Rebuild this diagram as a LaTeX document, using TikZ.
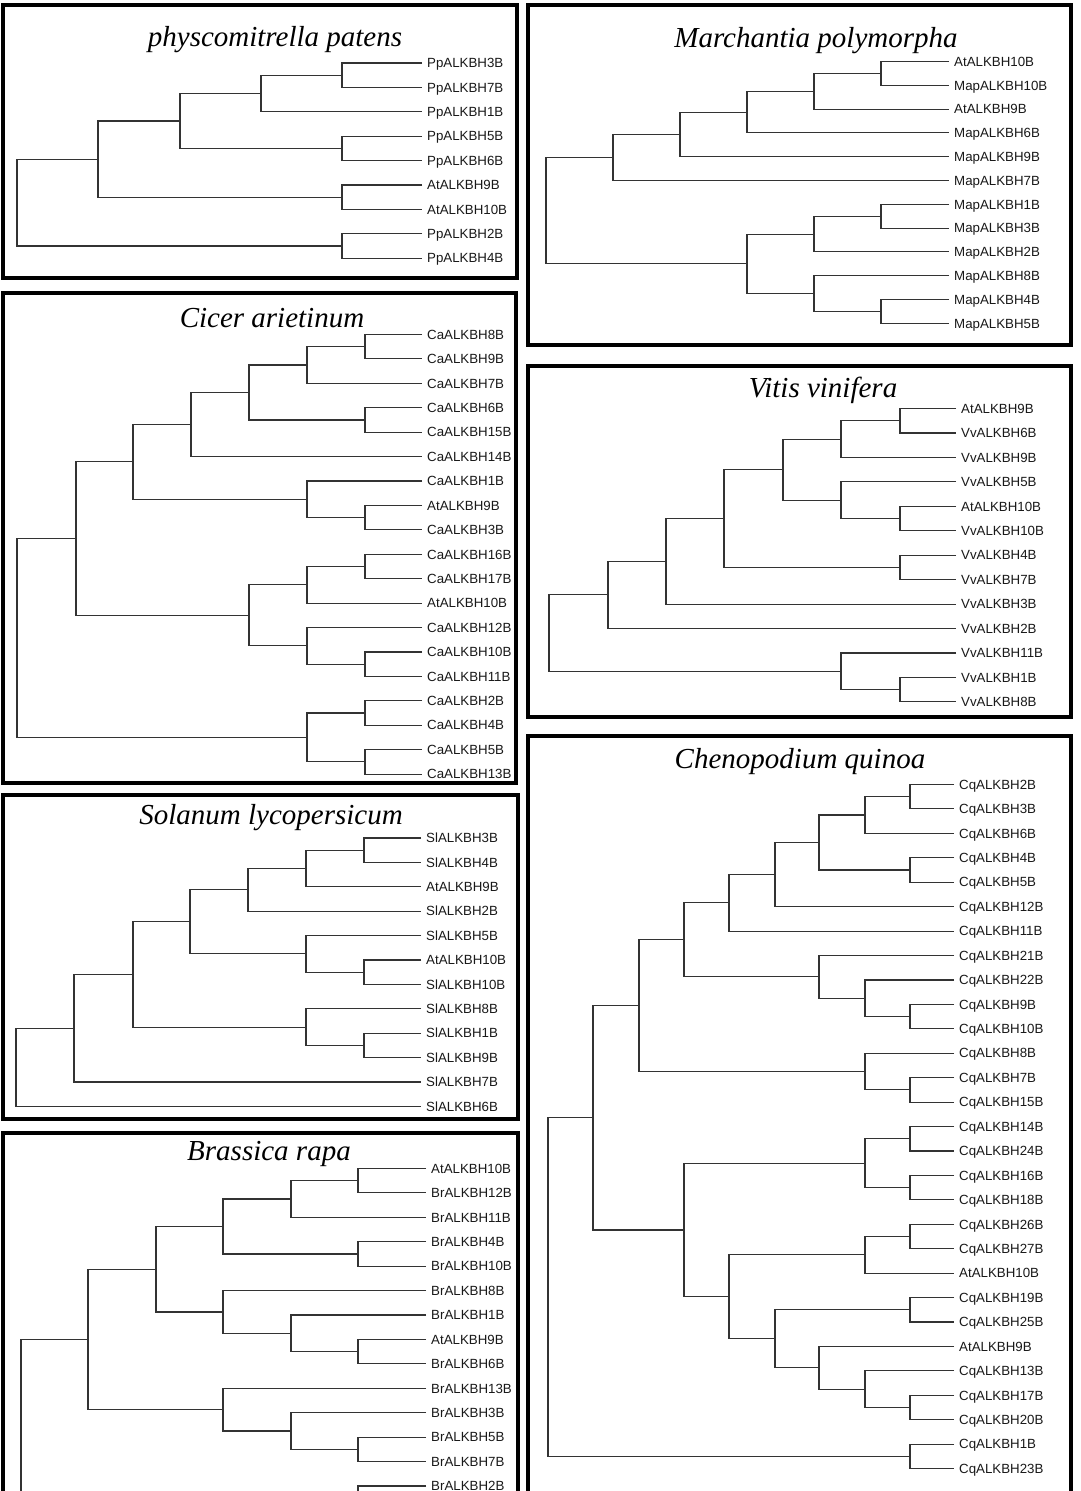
\documentclass[tikz,border=0pt]{standalone}
\usepackage{fontspec}
\setmainfont{Liberation Sans}
\newfontfamily\titlefont{Liberation Serif}
\usetikzlibrary{calc}

% one clade: name, x of the split, upper child, lower child
\newcommand\clade[4]{%
  \path let \p1=($(#3)!0.5!(#4)$) in coordinate (#1) at (#2pt,\y1);
  \draw[branch] (#3) -| (#1) |- (#4);
}

\begin{document}
\begin{tikzpicture}[x=1pt,y=-1pt,
    leaf/.style={anchor=west, inner xsep=5pt, inner ysep=0pt, text height=9.5pt,
      text depth=0pt, text=black!90, font=\fontsize{13.3}{15}\selectfont},
    title/.style={anchor=base, font=\titlefont\itshape\fontsize{29}{32}\selectfont},
    frame/.style={line width=3.5pt},
    branch/.style={line width=1.1pt, black!80}]
  \useasboundingbox (0,0) rectangle (1080,1491);
  \clip (0,0) rectangle (1080,1491);
  \fill[white] (0,0) rectangle (1080,1491);

  % physcomitrella patens
  \draw[frame] (3,5) rectangle (517,278);
  \node[title] (pptitle) at (275,46) {physcomitrella patens};
  \foreach \lab [count=\i] in {PpALKBH3B,PpALKBH7B,PpALKBH1B,PpALKBH5B,PpALKBH6B,
      AtALKBH9B,AtALKBH10B,PpALKBH2B,PpALKBH4B}
    \node[leaf] (pp\i) at (422,{63+24.4*(\i-1)}) {\lab};
  \clade{ppa}{342}{pp1}{pp2}
  \clade{ppb}{261}{ppa}{pp3}
  \clade{ppc}{342}{pp4}{pp5}
  \clade{ppd}{180}{ppb}{ppc}
  \clade{ppe}{342}{pp6}{pp7}
  \clade{ppf}{98}{ppd}{ppe}
  \clade{ppg}{342}{pp8}{pp9}
  \clade{ppr}{17}{ppf}{ppg}

  % Marchantia polymorpha
  \draw[frame] (528,5) rectangle (1071,345);
  \node[title] (mptitle) at (816,47) {Marchantia polymorpha};
  \foreach \lab [count=\i] in {AtALKBH10B,MapALKBH10B,AtALKBH9B,MapALKBH6B,MapALKBH9B,
      MapALKBH7B,MapALKBH1B,MapALKBH3B,MapALKBH2B,MapALKBH8B,MapALKBH4B,MapALKBH5B}
    \node[leaf] (mp\i) at (949,{61.5+23.8*(\i-1)}) {\lab};
  \clade{mpa}{881}{mp1}{mp2}
  \clade{mpb}{814}{mpa}{mp3}
  \clade{mpc}{747}{mpb}{mp4}
  \clade{mpd}{680}{mpc}{mp5}
  \clade{mpe}{613}{mpd}{mp6}
  \clade{mpf}{881}{mp7}{mp8}
  \clade{mpg}{814}{mpf}{mp9}
  \clade{mph}{881}{mp11}{mp12}
  \clade{mpi}{814}{mp10}{mph}
  \clade{mpj}{747}{mpg}{mpi}
  \clade{mpr}{546}{mpe}{mpj}

  % Cicer arietinum
  \draw[frame] (3,293) rectangle (516,783);
  \node[title] (catitle) at (272,327) {Cicer arietinum};
  \foreach \lab [count=\i] in {CaALKBH8B,CaALKBH9B,CaALKBH7B,CaALKBH6B,CaALKBH15B,
      CaALKBH14B,CaALKBH1B,AtALKBH9B,CaALKBH3B,CaALKBH16B,CaALKBH17B,AtALKBH10B,
      CaALKBH12B,CaALKBH10B,CaALKBH11B,CaALKBH2B,CaALKBH4B,CaALKBH5B,CaALKBH13B}
    \node[leaf] (ca\i) at (422,{334.5+24.42*(\i-1)}) {\lab};
  \clade{caa}{365}{ca1}{ca2}
  \clade{cab}{307}{caa}{ca3}
  \clade{cac}{365}{ca4}{ca5}
  \clade{cad}{249}{cab}{cac}
  \clade{cae}{191}{cad}{ca6}
  \clade{caf}{365}{ca8}{ca9}
  \clade{cag}{307}{ca7}{caf}
  \clade{cah}{133}{cae}{cag}
  \clade{cai}{365}{ca10}{ca11}
  \clade{caj}{307}{cai}{ca12}
  \clade{cak}{365}{ca14}{ca15}
  \clade{cal}{307}{ca13}{cak}
  \clade{cam}{249}{caj}{cal}
  \clade{can}{76}{cah}{cam}
  \clade{cao}{365}{ca16}{ca17}
  \clade{cap}{365}{ca18}{ca19}
  \clade{caq}{307}{cao}{cap}
  \clade{car}{17}{can}{caq}

  % Vitis vinifera
  \draw[frame] (528,366) rectangle (1071,717);
  \node[title] (vvtitle) at (823,397) {Vitis vinifera};
  \foreach \lab [count=\i] in {AtALKBH9B,VvALKBH6B,VvALKBH9B,VvALKBH5B,AtALKBH10B,
      VvALKBH10B,VvALKBH4B,VvALKBH7B,VvALKBH3B,VvALKBH2B,VvALKBH11B,VvALKBH1B,VvALKBH8B}
    \node[leaf] (vv\i) at (956,{408.5+24.45*(\i-1)}) {\lab};
  \clade{vva}{900}{vv1}{vv2}
  \clade{vvb}{841}{vva}{vv3}
  \clade{vvc}{900}{vv5}{vv6}
  \clade{vvd}{841}{vv4}{vvc}
  \clade{vve}{783}{vvb}{vvd}
  \clade{vvf}{900}{vv7}{vv8}
  \clade{vvg}{724}{vve}{vvf}
  \clade{vvh}{666}{vvg}{vv9}
  \clade{vvi}{608}{vvh}{vv10}
  \clade{vvj}{900}{vv12}{vv13}
  \clade{vvk}{841}{vv11}{vvj}
  \clade{vvr}{549}{vvi}{vvk}

  % Solanum lycopersicum
  \draw[frame] (3,795) rectangle (518,1119);
  \node[title] (sltitle) at (271,824) {Solanum lycopersicum};
  \foreach \lab [count=\i] in {SlALKBH3B,SlALKBH4B,AtALKBH9B,SlALKBH2B,SlALKBH5B,
      AtALKBH10B,SlALKBH10B,SlALKBH8B,SlALKBH1B,SlALKBH9B,SlALKBH7B,SlALKBH6B}
    \node[leaf] (sl\i) at (421,{838+24.4*(\i-1)}) {\lab};
  \clade{sla}{364}{sl1}{sl2}
  \clade{slb}{306}{sla}{sl3}
  \clade{slc}{248}{slb}{sl4}
  \clade{sld}{364}{sl6}{sl7}
  \clade{sle}{306}{sl5}{sld}
  \clade{slf}{190}{slc}{sle}
  \clade{slg}{364}{sl9}{sl10}
  \clade{slh}{306}{sl8}{slg}
  \clade{sli}{133}{slf}{slh}
  \clade{slj}{74}{sli}{sl11}
  \clade{slr}{16}{slj}{sl12}

  % Brassica rapa (runs off the page)
  \draw[frame] (3,1133) rectangle (518,1530);
  \node[title] (brtitle) at (269,1160) {Brassica rapa};
  \foreach \lab [count=\i] in {AtALKBH10B,BrALKBH12B,BrALKBH11B,BrALKBH4B,BrALKBH10B,
      BrALKBH8B,BrALKBH1B,AtALKBH9B,BrALKBH6B,BrALKBH13B,BrALKBH3B,BrALKBH5B,
      BrALKBH7B,BrALKBH2B}
    \node[leaf] (br\i) at (426,{1168.5+24.42*(\i-1)}) {\lab};
  \clade{bra}{358}{br1}{br2}
  \clade{brb}{291}{bra}{br3}
  \clade{brc}{358}{br4}{br5}
  \clade{brd}{223}{brb}{brc}
  \clade{bre}{358}{br8}{br9}
  \clade{brf}{291}{br7}{bre}
  \clade{brg}{223}{br6}{brf}
  \clade{brh}{156}{brd}{brg}
  \clade{bri}{358}{br12}{br13}
  \clade{brj}{291}{br11}{bri}
  \clade{brk}{223}{br10}{brj}
  \clade{brl}{88}{brh}{brk}
  \coordinate (brcut) at (21,1500);
  \coordinate (brcutb) at (358,1500);
  \draw[branch] (brl) -| (brcut);
  \draw[branch] (br14) -| (brcutb);

  % Chenopodium quinoa
  \draw[frame] (528,736) rectangle (1071,1530);
  \node[title] (cqtitle) at (800,768) {Chenopodium quinoa};
  \foreach \lab [count=\i] in {CqALKBH2B,CqALKBH3B,CqALKBH6B,CqALKBH4B,CqALKBH5B,
      CqALKBH12B,CqALKBH11B,CqALKBH21B,CqALKBH22B,CqALKBH9B,CqALKBH10B,CqALKBH8B,
      CqALKBH7B,CqALKBH15B,CqALKBH14B,CqALKBH24B,CqALKBH16B,CqALKBH18B,CqALKBH26B,
      CqALKBH27B,AtALKBH10B,CqALKBH19B,CqALKBH25B,AtALKBH9B,CqALKBH13B,CqALKBH17B,
      CqALKBH20B,CqALKBH1B,CqALKBH23B}
    \node[leaf] (cq\i) at (954,{784.5+24.43*(\i-1)}) {\lab};
  \clade{cqa}{910}{cq1}{cq2}
  \clade{cqb}{865}{cqa}{cq3}
  \clade{cqc}{910}{cq4}{cq5}
  \clade{cqd}{819}{cqb}{cqc}
  \clade{cqe}{775}{cqd}{cq6}
  \clade{cqf}{729}{cqe}{cq7}
  \clade{cqg}{910}{cq10}{cq11}
  \clade{cqh}{865}{cq9}{cqg}
  \clade{cqi}{819}{cq8}{cqh}
  \clade{cqj}{684}{cqf}{cqi}
  \clade{cqk}{910}{cq13}{cq14}
  \clade{cql}{865}{cq12}{cqk}
  \clade{cqm}{639}{cqj}{cql}
  \clade{cqn}{910}{cq15}{cq16}
  \clade{cqo}{910}{cq17}{cq18}
  \clade{cqp}{865}{cqn}{cqo}
  \clade{cqq}{910}{cq19}{cq20}
  \clade{cqr}{865}{cqq}{cq21}
  \clade{cqs}{910}{cq22}{cq23}
  \clade{cqt}{910}{cq26}{cq27}
  \clade{cqu}{865}{cq25}{cqt}
  \clade{cqv}{819}{cq24}{cqu}
  \clade{cqw}{775}{cqs}{cqv}
  \clade{cqx}{729}{cqr}{cqw}
  \clade{cqy}{684}{cqp}{cqx}
  \clade{cqz}{593}{cqm}{cqy}
  \clade{cqaa}{910}{cq28}{cq29}
  \clade{cqroot}{548}{cqz}{cqaa}
\end{tikzpicture}
\end{document}
